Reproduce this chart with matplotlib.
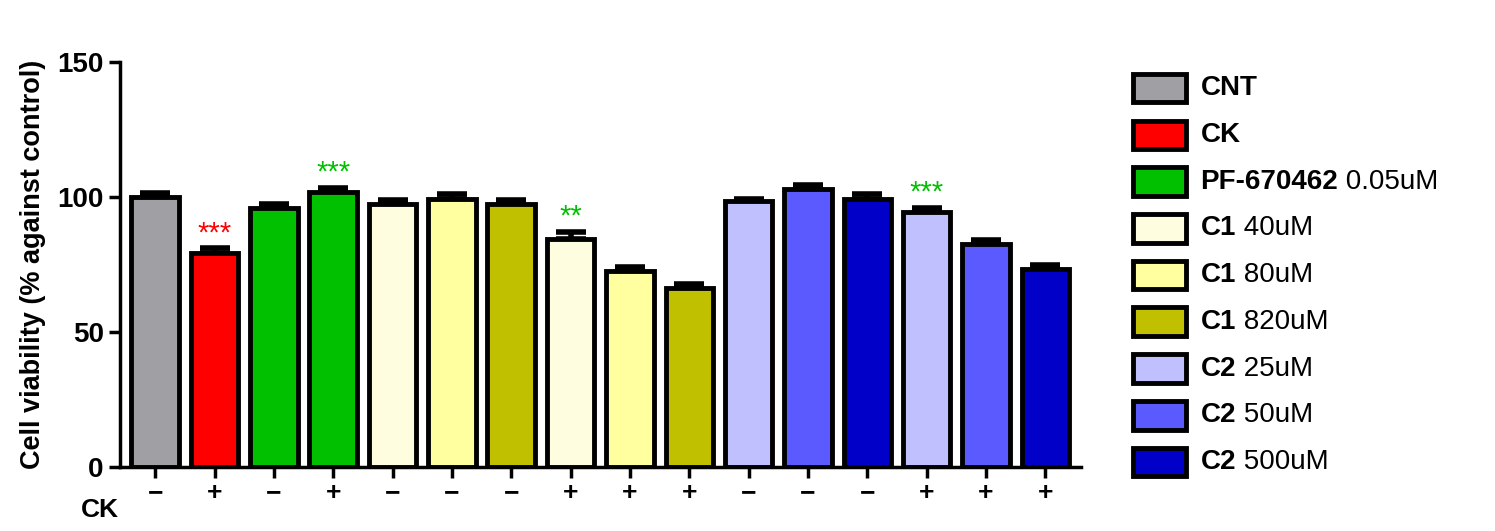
import matplotlib.pyplot as plt
from matplotlib.patches import Rectangle

values = [100, 79.5, 96, 102, 97.5, 99.5, 97.5, 84.5, 72.5, 66.5, 98.5, 103, 99.5, 94.5, 82.5, 73.5]
errors = [1.5, 1.5, 1.5, 1.5, 1.5, 1.5, 1.5, 2.5, 1.5, 1.5, 1, 1.5, 1.5, 1.5, 1.5, 1.5]
colors = ['#a0a0a4', '#ff0000', '#00c000', '#00c000', '#fffde0', '#ffffa0', '#c0c000',
          '#fffde0', '#ffffa0', '#c0c000', '#c0c0ff', '#5a5aff', '#0000c8', '#c0c0ff', '#5a5aff', '#0000c8']
ck_signs = ['−', '+', '−', '+', '−', '−', '−', '+', '+', '+', '−', '−', '−', '+', '+', '+']
stars = {1: ('***', '#ff0000'), 3: ('***', '#00c000'), 7: ('**', '#00c000'), 13: ('***', '#00c000')}

legend_bold = ['CNT', 'CK', 'PF-670462', 'C1', 'C1', 'C1', 'C2', 'C2', 'C2']
legend_rest = ['', '', ' 0.05uM', ' 40uM', ' 80uM', ' 820uM', ' 25uM', ' 50uM', ' 500uM']
legend_colors = ['#a0a0a4', '#ff0000', '#00c000', '#fffde0', '#ffffa0', '#c0c000', '#c0c0ff', '#5a5aff', '#0000c8']

plt.rcParams['font.family'] = ['Arial', 'Liberation Sans', 'DejaVu Sans']
fig = plt.figure(figsize=(14.95, 5.31), dpi=100)
ax = fig.add_axes([0.08, 0.12, 0.643, 0.763])

x = list(range(len(values)))
ax.bar(x, values, width=0.8, color=colors, edgecolor='black', linewidth=3.5, zorder=2)
ax.errorbar(x, values, yerr=[[0] * len(errors), errors], fmt='none', ecolor='black',
            elinewidth=4, capsize=11, capthick=4, zorder=1)
for i, (s, c) in stars.items():
    ax.text(i, values[i] + errors[i] + 0.5, s, color=c, ha='center', va='bottom', fontsize=21)

ax.set_xlim(-0.6, 15.6)
ax.set_ylim(0, 150)
ax.set_yticks([0, 50, 100, 150])
ax.set_xticks(x)
ax.set_xticklabels(ck_signs, fontsize=19, fontweight='bold')
ax.tick_params(axis='x', length=8, width=2.5, pad=2)
ax.tick_params(axis='y', length=8, width=2.5, labelsize=20)
for t in ax.get_yticklabels():
    t.set_fontweight('bold')
for sp in ['top', 'right']:
    ax.spines[sp].set_visible(False)
for sp in ['left', 'bottom']:
    ax.spines[sp].set_linewidth(2.5)
ax.set_ylabel('Cell viability (% against control)', fontsize=19.5, fontweight='bold', labelpad=8)
fig.text(0.067, 0.04, 'CK', fontsize=19, fontweight='bold', ha='center', va='center')

# legend drawn by hand for mixed bold/regular labels
fig.canvas.draw()
r = fig.canvas.get_renderer()
y0 = 0.834
dy = 0.088
for k in range(len(legend_bold)):
    yy = y0 - k * dy
    fig.patches.append(Rectangle((0.758, yy - 0.027), 0.035, 0.054, transform=fig.transFigure,
                                 facecolor=legend_colors[k], edgecolor='black', linewidth=3.5))
    t = fig.text(0.803, yy, legend_bold[k], fontsize=20, fontweight='bold', va='center')
    bb = t.get_window_extent(renderer=r)
    fig.text(bb.x1 / fig.bbox.width, yy, legend_rest[k], fontsize=20, va='center')

fig.savefig('out.png')
